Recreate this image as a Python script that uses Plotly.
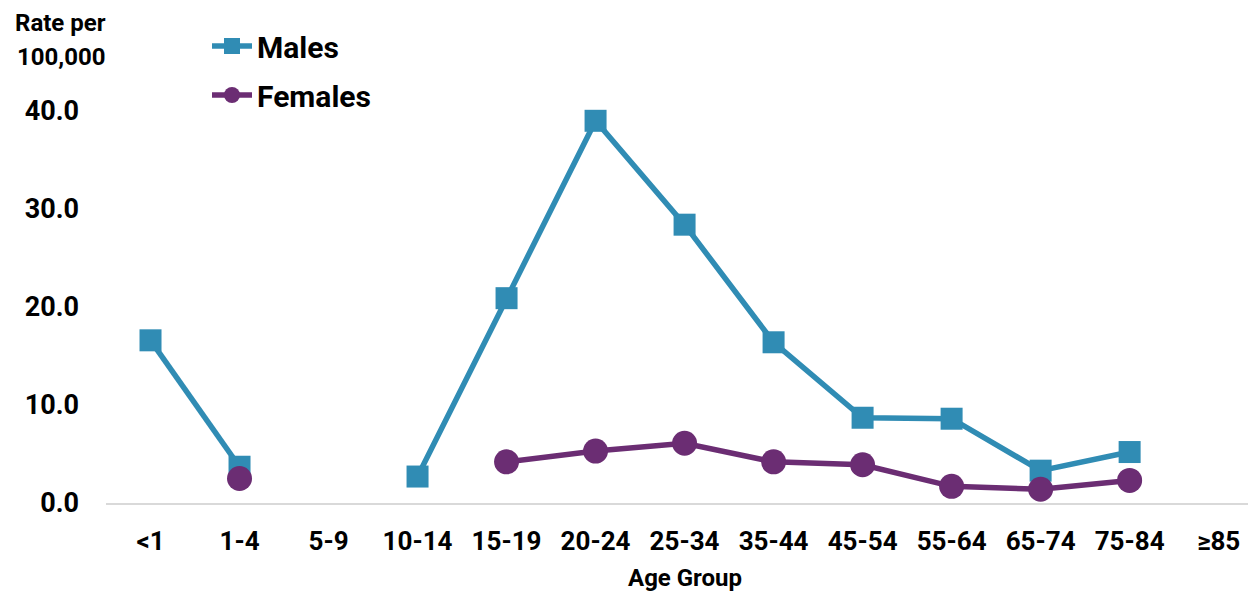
import plotly.graph_objects as go

age_groups = ["<1", "1-4", "5-9", "10-14", "15-19", "20-24", "25-34", "35-44",
              "45-54", "55-64", "65-74", "75-84", "≥85"]
males = [16.6, 3.7, None, 2.7, 20.9, 39.0, 28.4, 16.4, 8.7, 8.6, 3.3, 5.2, None]
females = [None, 2.5, None, None, 4.2, 5.3, 6.1, 4.2, 3.9, 1.7, 1.4, 2.3, None]
y_ticks = [0, 10, 20, 30, 40]

MALE_COLOR = "#308CB4"
FEMALE_COLOR = "#6B2D73"
FONT = "Roboto, Liberation Sans, Arial, sans-serif"

TOP, BOTTOM, LEFT = 20, 503, 106
PLOT_H = BOTTOM - TOP
Y_MAX = PLOT_H / 9.8

fig = go.Figure()
fig.add_trace(go.Scatter(
    x=age_groups, y=males, name="Males", mode="lines+markers",
    line=dict(color=MALE_COLOR, width=5.5),
    marker=dict(symbol="square", size=22, color=MALE_COLOR),
    connectgaps=False, cliponaxis=False, legendgroup="m",
))
fig.add_trace(go.Scatter(
    x=age_groups, y=females, name="Females", mode="lines+markers",
    line=dict(color=FEMALE_COLOR, width=5.5),
    marker=dict(symbol="circle", size=25, color=FEMALE_COLOR),
    connectgaps=False, cliponaxis=False, legendgroup="f",
))

fig.update_layout(
    width=1248, height=592,
    margin=dict(l=LEFT, r=0, t=TOP, b=592 - BOTTOM, autoexpand=False),
    paper_bgcolor="white", plot_bgcolor="white",
    font=dict(family=FONT, color="black", size=24),
    showlegend=True,
    legend=dict(
        x=(207 - LEFT) / 1142, y=1.0, xanchor="left", yanchor="top",
        font=dict(family=FONT, size=30, color="black", weight="bold"),
        bgcolor="rgba(0,0,0,0)", traceorder="grouped", tracegroupgap=7,
        itemwidth=40,
    ),
    xaxis=dict(
        type="category", categoryorder="array", categoryarray=age_groups,
        range=[-0.5, 12.33], showgrid=False, zeroline=False,
        showline=True, linecolor="#D9D9D9", linewidth=2,
        ticks="", ticklabelstandoff=14, automargin=False,
        tickfont=dict(family=FONT, size=26, weight="bold"),
    ),
    yaxis=dict(
        range=[0, Y_MAX], tickvals=y_ticks, tickformat=".1f",
        showgrid=False, zeroline=False, showline=False, ticks="",
        ticklabelstandoff=26, automargin=False,
        tickfont=dict(family=FONT, size=27, weight="bold"),
    ),
    annotations=[
        dict(text="Rate per", xref="paper", yref="paper",
             x=(60 - LEFT) / 1142, y=1.0 + (TOP - 23) / PLOT_H,
             xanchor="center", yanchor="middle", showarrow=False,
             font=dict(family=FONT, size=24, weight="bold")),
        dict(text="100,000", xref="paper", yref="paper",
             x=(61 - LEFT) / 1142, y=1.0 + (TOP - 57) / PLOT_H,
             xanchor="center", yanchor="middle", showarrow=False,
             font=dict(family=FONT, size=24, weight="bold")),
        dict(text="Age Group", xref="paper", yref="paper",
             x=(685 - LEFT) / 1142, y=-(578 - BOTTOM) / PLOT_H,
             xanchor="center", yanchor="middle", showarrow=False,
             font=dict(family=FONT, size=24, weight="bold")),
    ],
)

fig.write_html("out.html",
               config={"displayModeBar": False},
               post_script="document.body.style.margin='0';document.body.style.overflow='hidden';")
